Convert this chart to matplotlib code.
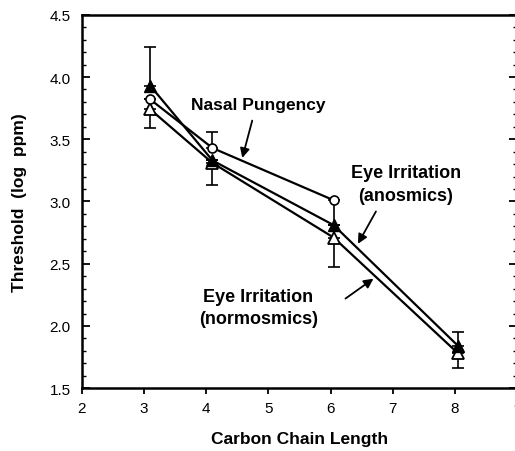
import numpy as np
import matplotlib.pyplot as plt
from matplotlib.ticker import MultipleLocator

plt.rcParams['font.family'] = ['Liberation Sans', 'DejaVu Sans']

# data
x_pts = [3.1, 4.1, 6.05, 8.05]
nasal_x = [3.1, 4.1, 6.05]
nasal = [3.82, 3.43, 3.01]
nasal_up = [0.0, 0.13, 0.0]
nasal_lo = [0.0, 0.0, 0.2]
anosmics = [3.93, 3.33, 2.81, 1.84]
anos_up = [0.31, 0.0, 0.0, 0.11]
normosmics = [3.74, 3.31, 2.71, 1.78]
norm_lo = [0.15, 0.18, 0.24, 0.12]

fig = plt.figure(figsize=(5.15, 4.52), dpi=100)
ax = fig.add_axes([0.159, 0.139, 0.845, 0.826])

lw = 1.6
# error bars
ax.errorbar(x_pts, anosmics, yerr=[np.zeros(4), anos_up], fmt='none', ecolor='black',
            elinewidth=1.2, capsize=4, capthick=1.2, zorder=2)
ax.errorbar(x_pts, normosmics, yerr=[norm_lo, np.zeros(4)], fmt='none', ecolor='black',
            elinewidth=1.2, capsize=4, capthick=1.2, zorder=2)
ax.errorbar(nasal_x, nasal, yerr=[nasal_lo, nasal_up], fmt='none', ecolor='black',
            elinewidth=1.2, capsize=4, capthick=1.2, zorder=2)

# lines
ax.plot(x_pts, anosmics, color='black', lw=lw, marker='^', ms=8,
        mfc='black', mec='black', zorder=4)
ax.plot(x_pts, normosmics, color='black', lw=lw, marker='^', ms=8,
        mfc='white', mec='black', mew=1.3, zorder=3)
ax.plot(nasal_x, nasal, color='black', lw=lw, marker='o', ms=6.5,
        mfc='white', mec='black', mew=1.2, zorder=5)

ax.set_xlim(2, 9)
ax.set_ylim(1.5, 4.5)
ax.set_xticks(range(2, 10))
ax.set_yticks(np.arange(1.5, 4.51, 0.5))
ax.set_yticklabels(['%.1f' % v for v in np.arange(1.5, 4.51, 0.5)])
ax.yaxis.set_minor_locator(MultipleLocator(0.1))

ax.tick_params(axis='x', direction='out', length=4, width=1.3, labelsize=11, pad=5)
ax.tick_params(axis='y', which='major', direction='in', length=6, width=1.3,
               labelsize=11, right=True, pad=8)
ax.tick_params(axis='y', which='minor', direction='in', length=3, width=1.0, right=True)
for s in ax.spines.values():
    s.set_linewidth(1.8)

ax.set_xlabel('Carbon Chain Length', fontsize=12.5, fontweight='bold', labelpad=12)
ax.set_ylabel('Threshold  (log  ppm)', fontsize=12.5, fontweight='bold', labelpad=16)

arrow = dict(arrowstyle='-|>', color='black', lw=1.3, mutation_scale=14, shrinkA=0, shrinkB=0)
ax.text(4.84, 3.78, 'Nasal Pungency', fontsize=12.5, fontweight='bold',
        ha='center', va='center')
ax.annotate('', xy=(4.58, 3.35), xytext=(4.74, 3.65), arrowprops=arrow)
ax.text(7.21, 3.14, 'Eye Irritation\n(anosmics)', fontsize=13, fontweight='bold',
        ha='center', va='center', linespacing=1.4)
ax.annotate('', xy=(6.44, 2.66), xytext=(6.73, 2.92), arrowprops=arrow)
ax.text(4.84, 2.15, 'Eye Irritation\n(normosmics)', fontsize=13, fontweight='bold',
        ha='center', va='center', linespacing=1.4)
ax.annotate('', xy=(6.69, 2.38), xytext=(6.24, 2.22), arrowprops=arrow)

fig.savefig('out.png', dpi=100)
